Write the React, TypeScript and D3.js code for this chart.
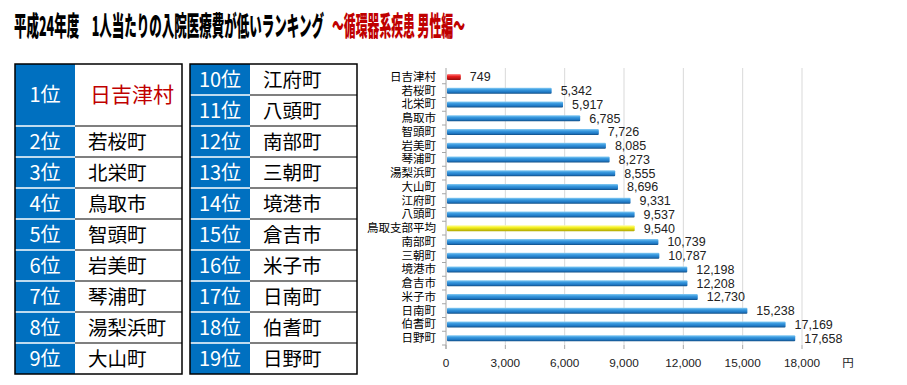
import React from 'react';
import * as d3 from 'd3';

const titleMain = '平成24年度　1人当たりの入院医療費が低いランキング';
const titleSub = '～循環器系疾患 男性編～';

const rankLeft = ['1位', '2位', '3位', '4位', '5位', '6位', '7位', '8位', '9位'];
const townLeft = ['日吉津村', '若桜町', '北栄町', '鳥取市', '智頭町', '岩美町', '琴浦町', '湯梨浜町', '大山町'];
const rankRight = ['10位', '11位', '12位', '13位', '14位', '15位', '16位', '17位', '18位', '19位'];
const townRight = ['江府町', '八頭町', '南部町', '三朝町', '境港市', '倉吉市', '米子市', '日南町', '伯耆町', '日野町'];

const categories = ['日吉津村', '若桜町', '北栄町', '鳥取市', '智頭町', '岩美町', '琴浦町', '湯梨浜町', '大山町', '江府町',
  '八頭町', '鳥取支部平均', '南部町', '三朝町', '境港市', '倉吉市', '米子市', '日南町', '伯耆町', '日野町'];
const costs = [749, 5342, 5917, 6785, 7726, 8085, 8273, 8555, 8696, 9331,
  9537, 9540, 10739, 10787, 12198, 12208, 12730, 15238, 17169, 17658];
const xTicks = [0, 3000, 6000, 9000, 12000, 15000, 18000];

const JP = '"Noto Sans CJK JP", sans-serif';
const BLUE = '#0070c0';

function RankTable({ x, ranks, towns, bigFirst }: { x: number, ranks: string[], towns: string[], bigFirst: boolean }) {
  const top = 64, rowH = 31, rankW = 60, w = 167;
  const heights = ranks.map((_, i) => (bigFirst && i === 0 ? rowH * 2 : rowH));
  const ys: number[] = [];
  let acc = top;
  heights.forEach(h => { ys.push(acc); acc += h; });
  const bottom = acc;
  return (
    <g>
      <rect x={x} y={top} width={rankW} height={bottom - top} fill={BLUE} />
      <rect x={x + rankW} y={top} width={w - rankW} height={bottom - top} fill="#fff" />
      {ys.slice(1).map((y, i) => (
        <g key={'l' + i}>
          <line x1={x} x2={x + rankW} y1={y} y2={y} stroke="#fff" strokeWidth={1.5} />
          <line x1={x + rankW} x2={x + w} y1={y} y2={y} stroke="#000" strokeWidth={1.2} />
        </g>
      ))}
      <rect x={x} y={top} width={w} height={bottom - top} fill="none" stroke="#000" strokeWidth={1.5} />
      {ranks.map((r, i) => (
        <text key={'r' + i} x={x + rankW / 2} y={ys[i] + heights[i] / 2 + 7} textAnchor="middle"
          fill="#fff" fontSize={20} fontFamily={JP}>{r}</text>
      ))}
      {towns.map((t, i) => (
        <text key={'t' + i} x={bigFirst && i === 0 ? x + rankW + 15 : x + rankW + 13} y={ys[i] + heights[i] / 2 + 7}
          fill={bigFirst && i === 0 ? '#c00000' : '#000'} fontSize={bigFirst && i === 0 ? 21 : 19.5} fontFamily={JP}>{t}</text>
      ))}
    </g>
  );
}

function BarChart() {
  const x = d3.scaleLinear().domain([0, 18000]).range([446, 802]);
  const y = d3.scaleBand().domain(categories).range([70, 345]);
  const barH = 6;
  const fmt = d3.format(',');
  return (
    <g>
      <defs>
        <linearGradient id="gBlue" x1="0" y1="0" x2="0" y2="1">
          <stop offset="0" stopColor="#8fd0f5" />
          <stop offset="0.35" stopColor="#3a9be0" />
          <stop offset="0.75" stopColor="#1f78c4" />
          <stop offset="1" stopColor="#124f86" />
        </linearGradient>
        <linearGradient id="gRed" x1="0" y1="0" x2="0" y2="1">
          <stop offset="0" stopColor="#ff9a9a" />
          <stop offset="0.4" stopColor="#ee2020" />
          <stop offset="1" stopColor="#9a0c0c" />
        </linearGradient>
        <linearGradient id="gYellow" x1="0" y1="0" x2="0" y2="1">
          <stop offset="0" stopColor="#ffffb0" />
          <stop offset="0.4" stopColor="#f5f020" />
          <stop offset="1" stopColor="#b0a800" />
        </linearGradient>
      </defs>
      {xTicks.slice(1).map(t => (
        <line key={'g' + t} x1={x(t)} x2={x(t)} y1={68} y2={345} stroke="#d9d9d9" strokeWidth={1} />
      ))}
      {xTicks.map(t => (
        <line key={'tk' + t} x1={x(t)} x2={x(t)} y1={345} y2={349} stroke="#a6a6a6" strokeWidth={1} />
      ))}
      <line x1={x(0)} x2={x(0)} y1={68} y2={349} stroke="#a6a6a6" strokeWidth={1} />
      {categories.map(c => (
        <line key={'yt' + c} x1={x(0) - 4} x2={x(0)} y1={(y(c) as number) + y.bandwidth()} y2={(y(c) as number) + y.bandwidth()}
          stroke="#a6a6a6" strokeWidth={1} />
      ))}
      {categories.map((c, i) => {
        const cy = (y(c) as number) + y.bandwidth() / 2;
        const fill = c === '日吉津村' ? 'url(#gRed)' : c === '鳥取支部平均' ? 'url(#gYellow)' : 'url(#gBlue)';
        return (
          <g key={'b' + c}>
            <rect x={x(0) + 1} y={cy - barH / 2} width={x(costs[i]) - x(0) - 1} height={barH} fill={fill} rx={1} />
            <text x={x(0) - 10} y={cy + 4} textAnchor="end" fontSize={11.5} fontFamily={JP} fill="#000">{c}</text>
            <text x={x(costs[i]) + 9} y={cy + 4.5} fontSize={12.5} fontFamily='"Liberation Sans", sans-serif' fill="#222">{fmt(costs[i])}</text>
          </g>
        );
      })}
      {xTicks.map(t => (
        <text key={'xl' + t} x={x(t)} y={367} textAnchor="middle" fontSize={11.8} fontFamily='"Liberation Sans", sans-serif' fill="#222">{fmt(t)}</text>
      ))}
      <text x={848} y={367} textAnchor="middle" fontSize={11.5} fontFamily={JP} fill="#222">円</text>
    </g>
  );
}

export default function App() {
  return (
    <svg width={907} height={385} style={{ position: 'absolute', left: 0, top: 0, background: '#fff' }}>
      <rect width={907} height={385} fill="#fff" />
      <text x={14} y={36} fontSize={27} fontWeight="900" fontFamily={JP} fill="#000"
        textLength={310} lengthAdjust="spacingAndGlyphs">{titleMain}</text>
      <text x={332} y={36} fontSize={27} fontWeight="900" fontFamily={JP} fill="#c00000"
        textLength={133} lengthAdjust="spacingAndGlyphs">{titleSub}</text>
      <RankTable x={15} ranks={rankLeft} towns={townLeft} bigFirst={true} />
      <RankTable x={190} ranks={rankRight} towns={townRight} bigFirst={false} />
      <BarChart />
    </svg>
  );
}
